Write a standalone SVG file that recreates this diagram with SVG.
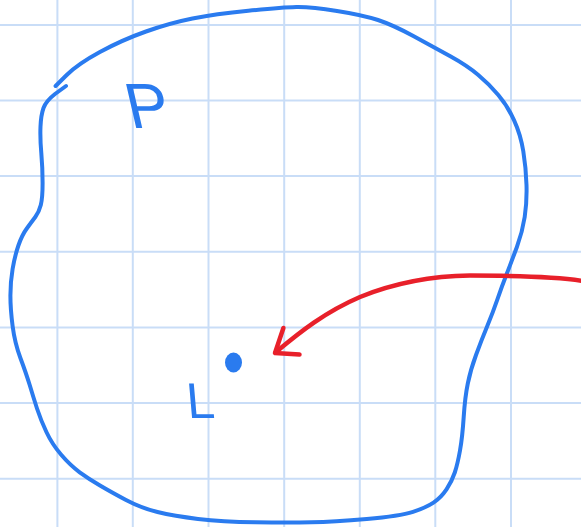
<svg xmlns="http://www.w3.org/2000/svg" width="581" height="527" viewBox="0 0 581 527">
<style>
.grid line{stroke:#c9ddf7;stroke-width:2}
.pen{fill:none;stroke:#2a7bef;stroke-width:4;stroke-linecap:round;stroke-linejoin:round}
.red{fill:none;stroke:#e8202a;stroke-width:4.5;stroke-linecap:round;stroke-linejoin:round}
.hand{font-family:"Liberation Sans","DejaVu Sans",sans-serif;fill:#2a7bef}
</style>
<rect width="581" height="527" fill="#ffffff"/>
<g class="grid">
<line x1="57.4" y1="0" x2="57.4" y2="527"/>
<line x1="132.8" y1="0" x2="132.8" y2="527"/>
<line x1="208.5" y1="0" x2="208.5" y2="527"/>
<line x1="284.2" y1="0" x2="284.2" y2="527"/>
<line x1="359.8" y1="0" x2="359.8" y2="527"/>
<line x1="435.3" y1="0" x2="435.3" y2="527"/>
<line x1="511" y1="0" x2="511" y2="527"/>
<line x1="0" y1="24.9" x2="581" y2="24.9"/>
<line x1="0" y1="100.5" x2="581" y2="100.5"/>
<line x1="0" y1="176.1" x2="581" y2="176.1"/>
<line x1="0" y1="251.8" x2="581" y2="251.8"/>
<line x1="0" y1="327.4" x2="581" y2="327.4"/>
<line x1="0" y1="403" x2="581" y2="403"/>
<line x1="0" y1="478.7" x2="581" y2="478.7"/>
</g>
<g id="region">
<path class="pen" d="M66 86 L55 94 Q46 101 43.5 108 Q41 115 40.5 126.5 Q40 138 41.3 153 Q42.6 168 42.6 183 Q42.6 198 40.8 205 Q39 212 35.3 217 Q31.5 222 26.8 228.5 Q22 235 18.4 245.5 Q14.8 256 12.6 269 Q10.4 282 10.4 295.5 Q10.4 309 12.6 326 Q14.8 343 20.4 358 Q26 373 29.7 385 Q33.3 397 37 408.5 Q40.8 420 46.4 432 Q52 444 61.2 454.8 Q70.4 465.5 79.7 472.3 Q89 479 100 485.5 Q111 492 126 500 Q141 508 157.5 512 Q174 516 198 518.9 Q222 521.7 255.5 522.2 Q289 522.7 311.3 522.2 Q333.5 521.7 366.8 518.9 Q400 516 413 511.8 Q426 507.6 433.5 502.6 Q441 497.5 446.5 489.3 Q452 481 454.8 472.5 Q457.6 464 460 450.5 Q462.4 437 463.7 417 Q465 397 467.8 383.5 Q470.5 370 476.1 354.8 Q481.7 339.5 487.3 326 Q492.8 312.6 497.4 299.3 Q502 286 506.7 274 Q511.3 262 516.9 247 Q522.4 232 524.7 217 Q527 202 526.5 185 Q526 168 523.3 151.3 Q520.6 134.5 514.1 120.3 Q507.6 106 498.3 95 Q489 84 478 74.8 Q467 65.5 450.3 56.3 Q433.5 47 413.3 36 Q393 25 378 20 Q363 15 337 10.9 Q311 6.7 296.3 7 Q281.6 7.4 248.3 10.7 Q215 14 192.5 18.5 Q170 23 146 31.5 Q122 40 99.9 52 Q77.8 64 66.7 75 L55.6 86"/>
</g>
<g id="label-P">
<text class="hand" transform="translate(131,128) skewX(13)" font-size="64">P</text>
</g>
<g id="point">
<ellipse cx="233.5" cy="362.5" rx="8.5" ry="10" fill="#2a7bef"/>
</g>
<g id="label-L">
<text class="hand" transform="translate(188,418) skewX(5)" font-size="50">L</text>
</g>
<g id="connectors">
<path class="red" d="M583 281 C560 277 520 275.6 470 275.6 C430 276 395 283 360 297 C325 312 300 332 276 352"/>
<path class="red" d="M283.4 328 L275 353 L299.5 354.5"/>
</g>
</svg>
